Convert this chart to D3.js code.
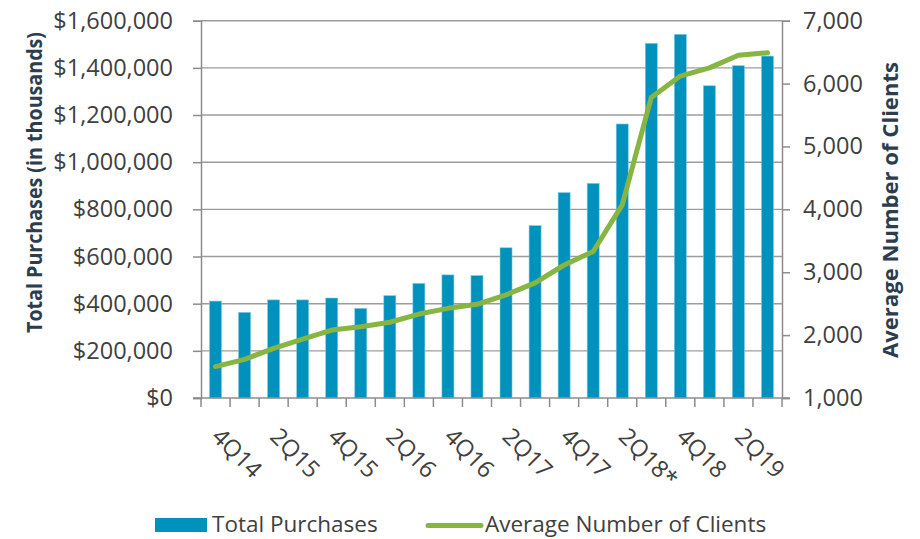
<!DOCTYPE html>
<html>
<head>
<meta charset="utf-8">
<script src="https://cdn.jsdelivr.net/npm/d3@7"></script>
<style>
  html, body { margin: 0; padding: 0; background: #fff; }
  svg { display: block; font-family: "Open Sans", sans-serif; }
</style>
</head>
<body>
<svg id="chart" width="920" height="539"></svg>
<script>
const categories = ["4Q14","1Q15","2Q15","3Q15","4Q15","1Q16","2Q16","3Q16","4Q16","1Q17",
                    "2Q17","3Q17","4Q17","1Q18","2Q18","3Q18","4Q18","1Q19","2Q19","3Q19"];
const tickLabels = {"4Q14":"4Q14","2Q15":"2Q15","4Q15":"4Q15","2Q16":"2Q16","4Q16":"4Q16",
                    "2Q17":"2Q17","4Q17":"4Q17","2Q18":"2Q18*","4Q18":"4Q18","2Q19":"2Q19"};
const totalPurchases = [411000, 363000, 416000, 416000, 424000, 380000, 434000, 486000, 522000, 519000,
                        637000, 731000, 871000, 910000, 1162000, 1504000, 1542000, 1324000, 1409000, 1450000];
const avgClients = [1500, 1615, 1790, 1938, 2080, 2134, 2205, 2335, 2426, 2490,
                    2640, 2830, 3115, 3330, 4070, 5780, 6120, 6250, 6450, 6490];
const leftTicks = [0, 200000, 400000, 600000, 800000, 1000000, 1200000, 1400000, 1600000];
const rightTicks = [1000, 2000, 3000, 4000, 5000, 6000, 7000];

const svg = d3.select("#chart");
const L = 201, R = 782, T = 20.7, B = 398;
const barColor = "#0091bc", lineColor = "#86b541";
const axisColor = "#8c8c8c", gridColor = "#9c9c9c", textColor = "#404040", titleColor = "#2c3d4d";
const tickFont = 23.5;

const x = d3.scaleBand().domain(categories).range([L, R]).paddingInner(0.587).paddingOuter(0.2935);
const step = (R - L) / categories.length;
const yL = d3.scaleLinear().domain([0, 1600000]).range([B, T]);
const yR = d3.scaleLinear().domain([1000, 7000]).range([B, T]);

// gridlines
svg.append("g").selectAll("line").data(leftTicks.filter(d => d > 0)).join("line")
  .attr("x1", L).attr("x2", R)
  .attr("y1", d => yL(d)).attr("y2", d => yL(d))
  .attr("stroke", gridColor).attr("stroke-width", 1.4);

// bars
svg.append("g").selectAll("rect").data(categories).join("rect")
  .attr("x", d => x(d))
  .attr("width", x.bandwidth())
  .attr("y", (d, i) => yL(totalPurchases[i]))
  .attr("height", (d, i) => B - yL(totalPurchases[i]))
  .attr("fill", barColor)
  .attr("stroke", "#7cc9e0").attr("stroke-width", 0.6);

// left axis
const fmtL = d => "$" + d3.format(",")(d);
const gL = svg.append("g").attr("transform", `translate(${L},0)`)
  .call(d3.axisLeft(yL).tickValues(leftTicks).tickFormat(fmtL).tickSize(8).tickPadding(20));
gL.select(".domain").attr("stroke", axisColor).attr("stroke-width", 1.5);
gL.selectAll(".tick line").attr("stroke", axisColor).attr("stroke-width", 1.5);
gL.selectAll(".tick text").attr("fill", textColor).attr("font-size", tickFont)
  .attr("font-family", "Open Sans, sans-serif");

// right axis
const gR = svg.append("g").attr("transform", `translate(${R},0)`)
  .call(d3.axisRight(yR).tickValues(rightTicks).tickFormat(d3.format(",")).tickSize(8).tickPadding(13));
gR.select(".domain").attr("stroke", axisColor).attr("stroke-width", 1.5);
gR.selectAll(".tick line").attr("stroke", axisColor).attr("stroke-width", 1.5);
gR.selectAll(".tick text").attr("fill", textColor).attr("font-size", tickFont)
  .attr("font-family", "Open Sans, sans-serif");

// bottom axis (tick marks at band boundaries)
const gB = svg.append("g");
gB.append("line").attr("x1", L - 8).attr("x2", R + 8).attr("y1", B).attr("y2", B)
  .attr("stroke", axisColor).attr("stroke-width", 1.5);
gB.selectAll("line.tk").data(d3.range(categories.length + 1)).join("line").attr("class", "tk")
  .attr("x1", i => L + i * step).attr("x2", i => L + i * step)
  .attr("y1", B).attr("y2", B + 9)
  .attr("stroke", axisColor).attr("stroke-width", 1.5);
gB.selectAll("text").data(categories.filter(c => tickLabels[c])).join("text")
  .attr("transform", d => `translate(${x(d) + x.bandwidth() / 2 - 5},${B + 40}) rotate(45)`)
  .attr("fill", textColor).attr("font-size", tickFont)
  .text(d => tickLabels[d]);

// line
const line = d3.line()
  .x((d, i) => x(categories[i]) + x.bandwidth() / 2)
  .y(d => yR(d));
svg.append("path").datum(avgClients)
  .attr("d", line).attr("fill", "none")
  .attr("stroke", lineColor).attr("stroke-width", 5)
  .attr("stroke-linejoin", "round").attr("stroke-linecap", "round");

// axis titles
svg.append("text")
  .attr("transform", `translate(42,182.5) rotate(-90)`)
  .attr("text-anchor", "middle").attr("font-weight", "bold").attr("font-size", 21.5)
  .attr("fill", titleColor)
  .attr("textLength", 301).attr("lengthAdjust", "spacingAndGlyphs")
  .text("Total Purchases (in thousands)");
svg.append("text")
  .attr("transform", `translate(898,210) rotate(-90)`)
  .attr("text-anchor", "middle").attr("font-weight", "bold").attr("font-size", 21.5)
  .attr("fill", titleColor)
  .attr("textLength", 296).attr("lengthAdjust", "spacingAndGlyphs")
  .text("Average Number of Clients");

// legend
const lg = svg.append("g");
lg.append("rect").attr("x", 155).attr("y", 518).attr("width", 52).attr("height", 14).attr("fill", barColor);
lg.append("text").attr("x", 212).attr("y", 532).attr("font-size", 22.5).attr("fill", textColor).text("Total Purchases");
lg.append("line").attr("x1", 428).attr("x2", 481).attr("y1", 525.5).attr("y2", 525.5)
  .attr("stroke", lineColor).attr("stroke-width", 5).attr("stroke-linecap", "round");
lg.append("text").attr("x", 485).attr("y", 532).attr("font-size", 22.5).attr("fill", textColor).text("Average Number of Clients");
</script>
</body>
</html>
